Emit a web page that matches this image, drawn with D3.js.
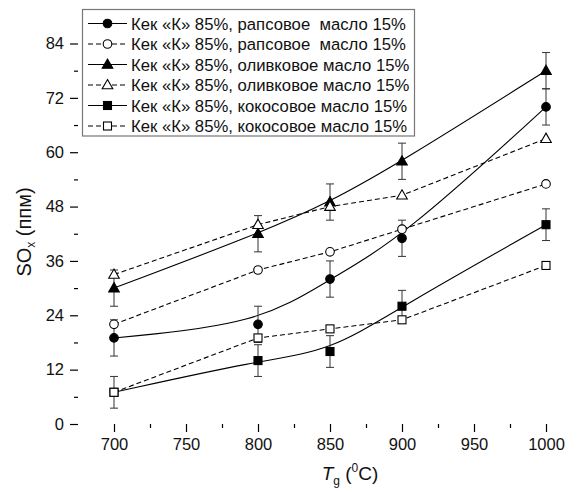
<!DOCTYPE html>
<html><head><meta charset="utf-8">
<script src="https://cdn.jsdelivr.net/npm/d3@7"></script>
<style>body{margin:0;background:#fff}svg{display:block}text{font-family:"Liberation Sans",Arial,sans-serif}</style>
</head><body>
<svg id="c" width="579" height="492"></svg>
<script>
const temps = [700, 800, 850, 900, 1000];
const rapFilled = [19, 22, 32, 41, 70];
const rapOpen = [22, 34, 38, 43, 53];
const oliFilled = [30, 42, 49, 58, 78];
const oliOpen = [33, 44, 48, 50.5, 63];
const cocFilled = [7, 14, 16, 26, 44];
const cocOpen = [7, 19, 21, 23, 35];
const rapErr = [4, 4, 4, 4, 4];
const oliErr = [4, 4, 4, 4, 4];
const cocErr = [3.5, 3.5, 3.5, 3.5, 3.5];
const xTicks = [700, 750, 800, 850, 900, 950, 1000];
const yTicks = [0, 12, 24, 36, 48, 60, 72, 84];
const legendLabels = [
  "Кек «К» 85%, рапсовое \u00A0масло 15%",
  "Кек «К» 85%, рапсовое \u00A0масло 15%",
  "Кек «К» 85%, оливковое масло 15%",
  "Кек «К» 85%, оливковое масло 15%",
  "Кек «К» 85%, кокосовое масло 15%",
  "Кек «К» 85%, кокосовое масло 15%"
];

const series = [
  {vals: rapFilled, err: rapErr, shape: "circle", filled: true},
  {vals: rapOpen, err: null, shape: "circle", filled: false},
  {vals: oliFilled, err: oliErr, shape: "triangle", filled: true},
  {vals: oliOpen, err: null, shape: "triangle", filled: false},
  {vals: cocFilled, err: cocErr, shape: "square", filled: true},
  {vals: cocOpen, err: null, shape: "square", filled: false}
];

const svg = d3.select("#c");
const x = d3.scaleLinear().domain([675, 1025]).range([78, 582]);
const y0 = 424, pxPerUnit = (424 - 43.5) / 84;
const y = d3.scaleLinear().domain([0, 85]).range([y0, y0 - 85 * pxPerUnit]);

// axes
const gx = svg.append("g").attr("transform", `translate(0,${y0})`);
gx.call(d3.axisBottom(x).tickValues(xTicks).tickSize(8).tickPadding(6).tickFormat(d3.format("d")));
gx.append("g").call(d3.axisBottom(x).tickValues([725,775,825,875,925,975,1025]).tickSize(4).tickFormat(""));
const gy = svg.append("g").attr("transform", `translate(78,0)`);
gy.call(d3.axisLeft(y).tickValues(yTicks).tickSize(8).tickPadding(6));
gy.append("g").call(d3.axisLeft(y).tickValues([6,18,30,42,54,66,78]).tickSize(4).tickFormat(""));
svg.selectAll(".domain").attr("stroke", "#000").attr("stroke-width", 1.3);
svg.selectAll(".tick line").attr("stroke", "#000").attr("stroke-width", 1.2);
svg.selectAll(".tick text").attr("font-size", 16.5).attr("fill", "#111").attr("font-family", "Liberation Sans, Arial, sans-serif");
gx.selectAll("path.domain").attr("d", `M70,0.5H579`);
gy.selectAll(":scope > path.domain").attr("d", `M0.5,${y0}V${y(85)}`);
gy.selectAll("g > path.domain").remove();
gx.selectAll("g > path.domain").remove();

// lines
const solidLine = d3.line().x(d => x(d[0])).y(d => y(d[1])).curve(d3.curveBasis);
const dashLine = d3.line().x(d => x(d[0])).y(d => y(d[1]));
series.forEach(s => {
  const pts = temps.map((t, i) => [t, s.vals[i]]);
  svg.append("path").attr("d", s.filled ? solidLine(pts) : dashLine(pts))
    .attr("fill", "none").attr("stroke", "#000").attr("stroke-width", 1.1)
    .attr("stroke-dasharray", s.filled ? null : "5,3");
});

// error bars
series.filter(s => s.err).forEach(s => {
  temps.forEach((t, i) => {
    const cx = x(t), lo = y(s.vals[i] - s.err[i]), hi = y(s.vals[i] + s.err[i]);
    const g = svg.append("g").attr("stroke", "#333").attr("stroke-width", 1);
    g.append("line").attr("x1", cx).attr("x2", cx).attr("y1", lo).attr("y2", hi);
    g.append("line").attr("x1", cx - 4).attr("x2", cx + 4).attr("y1", lo).attr("y2", lo);
    g.append("line").attr("x1", cx - 4).attr("x2", cx + 4).attr("y1", hi).attr("y2", hi);
  });
});

function marker(g, shape, filled, cx, cy) {
  const fill = filled ? "#000" : "#fff";
  let m;
  if (shape === "circle") m = g.append("circle").attr("cx", cx).attr("cy", cy).attr("r", 4.3);
  else if (shape === "square") m = g.append("rect").attr("x", cx - 4).attr("y", cy - 4).attr("width", 8).attr("height", 8);
  else m = g.append("path").attr("d", `M${cx},${cy - 5.5}L${cx + 5.3},${cy + 3.8}L${cx - 5.3},${cy + 3.8}Z`);
  m.attr("fill", fill).attr("stroke", "#000").attr("stroke-width", 1.1);
}
series.forEach(s => {
  temps.forEach((t, i) => marker(svg, s.shape, s.filled, x(t), y(s.vals[i])));
});

// legend
const lg = svg.append("g");
lg.append("rect").attr("x", 82.5).attr("y", 9.5).attr("width", 332).attr("height", 126.5)
  .attr("fill", "#fff").attr("stroke", "#777").attr("stroke-width", 1.2);
legendLabels.forEach((lab, i) => {
  const s = series[i];
  const cy = 23.5 + i * 20.5;
  lg.append("line").attr("x1", 88).attr("x2", 127).attr("y1", cy).attr("y2", cy)
    .attr("stroke", "#000").attr("stroke-width", 1.1).attr("stroke-dasharray", s.filled ? null : "5,3");
  marker(lg, s.shape, s.filled, 107.5, cy);
  lg.append("text").attr("x", 131).attr("y", cy + 6).attr("font-size", 16.7).attr("fill", "#111").text(lab);
});

// axis titles
const yl = svg.append("text").attr("transform", "translate(31,232) rotate(-90)")
  .attr("text-anchor", "middle").attr("font-size", 20).attr("fill", "#111");
yl.append("tspan").text("SO");
yl.append("tspan").attr("font-size", 12).attr("dy", 4).text("x");
yl.append("tspan").attr("dy", -4).text(" (ппм)");

const xl = svg.append("text").attr("x", 350).attr("y", 480).attr("text-anchor", "middle")
  .attr("font-size", 19).attr("fill", "#111");
xl.append("tspan").attr("font-style", "italic").text("T");
xl.append("tspan").attr("font-size", 12).attr("dy", 5).text("g");
xl.append("tspan").attr("dy", -5).text(" (");
xl.append("tspan").attr("font-size", 12).attr("dy", -8).text("0");
xl.append("tspan").attr("dy", 8).text("C)");
</script>
</body></html>
